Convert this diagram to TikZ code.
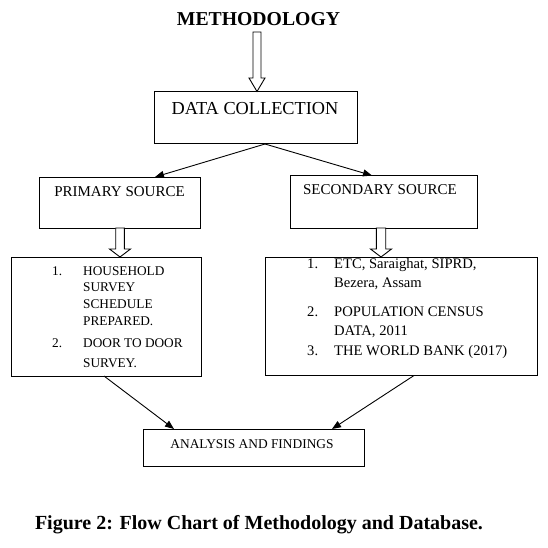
\documentclass[tikz,border=0pt]{standalone}
\usepackage{fontspec}
\setmainfont{Liberation Serif}
\usetikzlibrary{arrows.meta}
\newcommand{\harrow}[6]{\draw[hollow] (#1-#5,#2) -- (#1-#5,#3) -- (#1-#6,#3) -- (#1,#4) -- (#1+#6,#3) -- (#1+#5,#3) -- (#1+#5,#2) -- cycle;}
\begin{document}
\begin{tikzpicture}[x=1pt,y=-1pt,
  box/.style={draw, line width=1pt, inner sep=0pt},
  conn/.style={line width=0.9pt, -{Triangle[length=9pt,width=7pt]}},
  hollow/.style={draw, line width=0.9pt, fill=white},
  lbl/.style={inner sep=0pt, anchor=base},
  item/.style={inner sep=0pt, anchor=base west}]
\useasboundingbox (0,0) rectangle (547,548);

% boxes
\node[box, minimum width=203pt, minimum height=52pt] (data) at (255.5,118) {};
\node[box, minimum width=161pt, minimum height=51pt] (primary) at (119.5,202.5) {};
\node[box, minimum width=187pt, minimum height=53pt] (secondary) at (383.5,201.5) {};
\node[box, minimum width=190pt, minimum height=119pt] (leftlist) at (106,316.5) {};
\node[box, minimum width=272pt, minimum height=118pt] (rightlist) at (401,316) {};
\node[box, minimum width=221pt, minimum height=37pt] (analysis) at (253.5,447.5) {};

% texts
\node[lbl, font=\bfseries\fontsize{19.7}{22}\selectfont] (title) at (258.5,26) {METHODOLOGY};
\node[lbl, font=\fontsize{18.3}{21}\selectfont] (datat) at (255,115) {DATA COLLECTION};
\node[lbl, font=\fontsize{15}{17}\selectfont] (primt) at (119.5,196) {PRIMARY SOURCE};
\node[lbl, font=\fontsize{15}{17}\selectfont] (sect) at (380,194) {SECONDARY SOURCE};
\node[lbl, font=\fontsize{13.4}{15}\selectfont] (anat) at (252,448) {ANALYSIS AND FINDINGS};
\node[lbl, font=\bfseries\fontsize{20}{23}\selectfont] (caption) at (259,529) {Figure 2: Flow Chart of Methodology and Database.};

% left list
\begin{scope}[font=\fontsize{13.3}{15}\selectfont]
\node[item] (l1n) at (52,275.4) {1.};
\node[item] (l1a) at (83,275.4) {HOUSEHOLD};
\node[item] (l1b) at (83,291.4) {SURVEY};
\node[item] (l1c) at (83,308.4) {SCHEDULE};
\node[item] (l1d) at (83,325.4) {PREPARED.};
\node[item] (l2n) at (52,347.4) {2.};
\node[item] (l2a) at (83,347.4) {DOOR TO DOOR};
\node[item] (l2b) at (83,367.4) {SURVEY.};
\end{scope}

% right list
\begin{scope}[font=\fontsize{14.6}{17}\selectfont]
\node[item] (r1n) at (307,268) {1.};
\node[item] (r1a) at (334,268) {ETC, Saraighat, SIPRD,};
\node[item] (r1b) at (334,287) {Bezera, Assam};
\node[item] (r2n) at (307,316) {2.};
\node[item] (r2a) at (334,316) {POPULATION CENSUS};
\node[item] (r2b) at (334,335) {DATA, 2011};
\node[item] (r3n) at (307,355) {3.};
\node[item] (r3a) at (334,355) {THE WORLD BANK (2017)};
\end{scope}

% hollow arrows
\harrow{257}{32}{78}{91.5}{4}{8}
\harrow{120}{228}{249}{257}{4.3}{10.5}
\harrow{381}{228}{249}{257}{4.7}{10.5}

% connectors
\coordinate (split) at (265,144);
\coordinate (pin) at (155,177);
\coordinate (sin) at (372,175.5);
\coordinate (lout) at (104,376);
\coordinate (rout) at (414,375.5);
\coordinate (ain1) at (174,429);
\coordinate (ain2) at (332,429);
\draw[conn] (split) -- (pin);
\draw[conn] (split) -- (sin);
\draw[conn] (lout) -- (ain1);
\draw[conn] (rout) -- (ain2);
\end{tikzpicture}
\end{document}
